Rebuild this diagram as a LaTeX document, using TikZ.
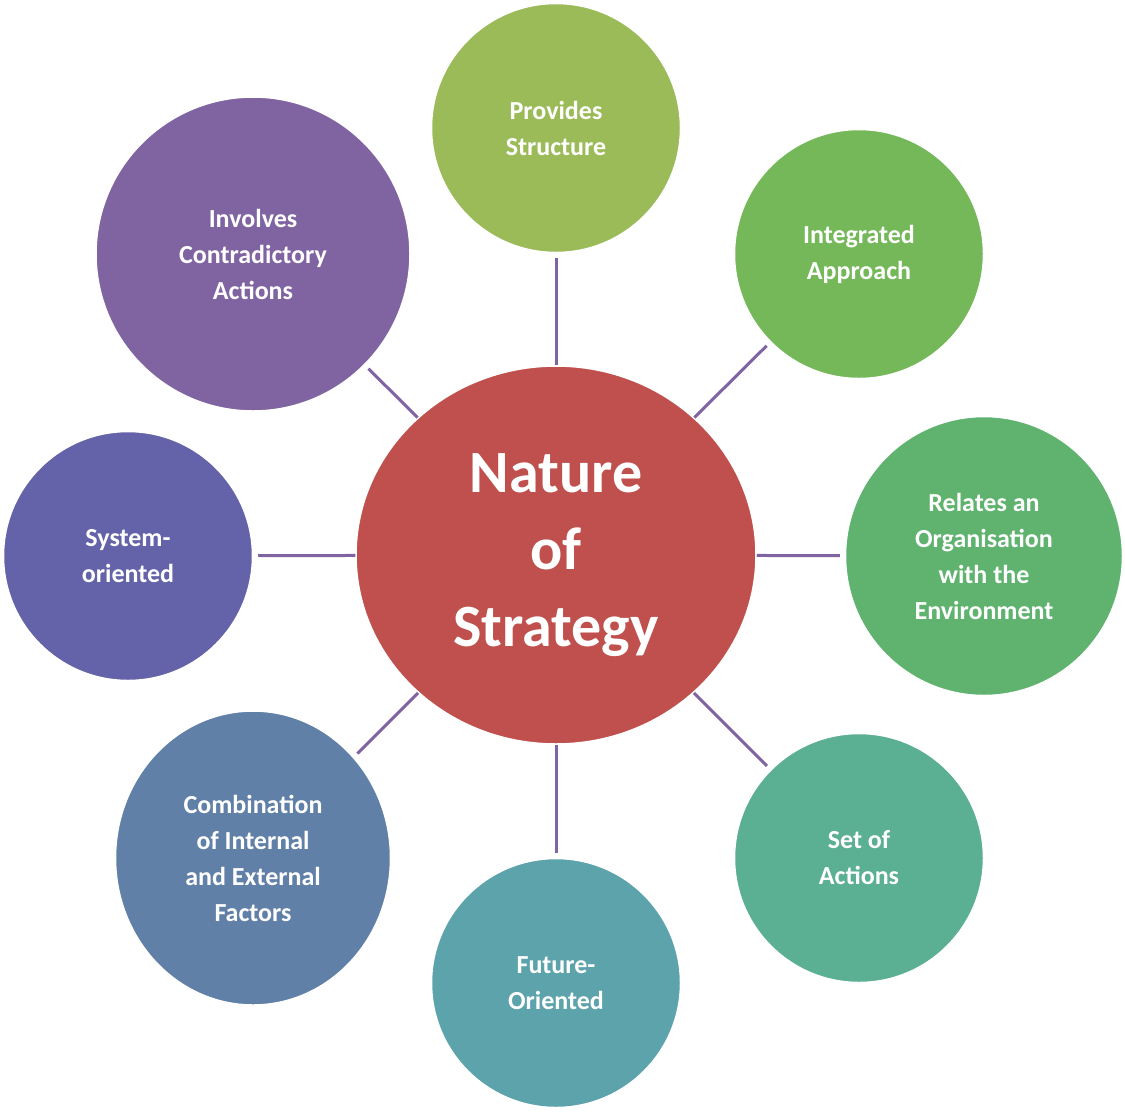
\documentclass[tikz,border=0pt]{standalone}
\usepackage{fontspec}
\setmainfont{Carlito}
\usetikzlibrary{shapes.geometric}
\definecolor{cA}{HTML}{9BBB59}
\definecolor{cB}{HTML}{74B85A}
\definecolor{cC}{HTML}{5FB36F}
\definecolor{cD}{HTML}{5BAF92}
\definecolor{cE}{HTML}{5CA3AC}
\definecolor{cF}{HTML}{6080A8}
\definecolor{cG}{HTML}{6462A8}
\definecolor{cH}{HTML}{8064A2}
\definecolor{cM}{HTML}{C0504D}
\definecolor{ln}{HTML}{8064A2}
\begin{document}
\begin{tikzpicture}[x=1pt,y=-1pt,
  bub/.style={circle,draw=white,line width=1.5pt,inner sep=0pt,text=white,align=center,
    font=\fontsize{26}{36}\selectfont\bfseries},
  conn/.style={draw=ln,line width=3pt,shorten >=5pt}]
\useasboundingbox (0,0) rectangle (1125,1112);
\node[ellipse,fill=cM,draw=white,line width=1.5pt,minimum width=400pt,minimum height=378pt,inner sep=0pt,text=white,align=center,
  font=\fontsize{60}{77}\selectfont\bfseries] (m) at (556,555) {Nature\\of\\Strategy};
\node[bub,fill=cA,minimum size=249pt] (a) at (556,128) {Provides\\Structure};
\node[bub,fill=cB,minimum size=249pt] (b) at (859,254) {Integrated\\Approach};
\node[bub,fill=cC,ellipse,minimum width=277pt,minimum height=279pt] (c) at (984,556) {Relates an\\Organisation\\with the\\Environment};
\node[bub,fill=cD,minimum size=249pt] (d) at (859,858) {Set of\\Actions};
\node[bub,fill=cE,minimum size=249pt] (e) at (556,983) {Future-\\Oriented};
\node[bub,fill=cF,ellipse,minimum width=275pt,minimum height=294pt] (f) at (253,858) {Combination\\of Internal\\and External\\Factors};
\node[bub,fill=cG,minimum size=249pt] (g) at (128,556) {System-\\oriented};
\node[bub,fill=cH,minimum size=314pt] (h) at (253,254) {Involves\\Contradictory\\Actions};
\foreach \n in {a,b,c,d,e,f,g,h} \draw[conn] (m) -- (\n);
\end{tikzpicture}
\end{document}
